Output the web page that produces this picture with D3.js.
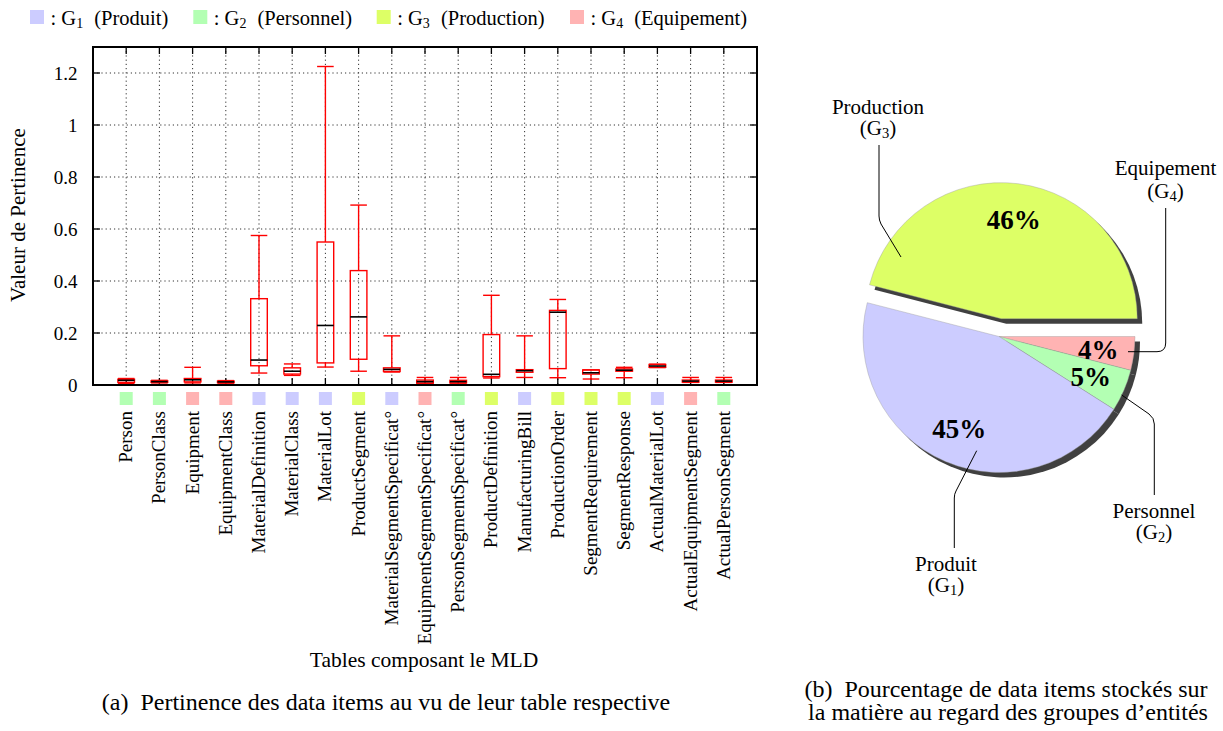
<!DOCTYPE html>
<html><head><meta charset="utf-8">
<script src="https://cdn.jsdelivr.net/npm/d3@7"></script>
<style>
html,body{margin:0;padding:0;background:#fff;}
svg{display:block;}
svg text{font-family:"Liberation Serif","Times New Roman",serif;}
</style></head>
<body>
<svg id="chart" width="1223" height="731"></svg>
<script>
// ---------- data ----------
const categories = ["Person","PersonClass","Equipment","EquipmentClass","MaterialDefinition","MaterialClass","MaterialLot","ProductSegment","MaterialSegmentSpecificat°","EquipmentSegmentSpecificat°","PersonSegmentSpecificat°","ProductDefinition","ManufacturingBill","ProductionOrder","SegmentRequirement","SegmentResponse","ActualMaterialLot","ActualEquipmentSegment","ActualPersonSegment"];
const categoryGroup = ["G2","G2","G4","G4","G1","G1","G1","G3","G1","G4","G2","G3","G1","G3","G3","G3","G1","G4","G2"];
const whiskerLow  = [0.006,0.008,0.008,0.007,0.046,0.037,0.069,0.053,0.050,0.007,0.007,0.027,0.029,0.028,0.023,0.028,0.067,0.010,0.010];
const quartile1   = [0.010,0.010,0.012,0.009,0.074,0.042,0.085,0.099,0.052,0.007,0.008,0.032,0.049,0.063,0.042,0.053,0.068,0.011,0.011];
const medianVals  = [0.018,0.013,0.020,0.012,0.096,0.053,0.229,0.262,0.060,0.013,0.013,0.041,0.055,0.280,0.047,0.057,0.073,0.015,0.015];
const quartile3   = [0.022,0.016,0.025,0.015,0.332,0.066,0.550,0.440,0.066,0.019,0.018,0.194,0.059,0.287,0.058,0.062,0.079,0.019,0.019];
const whiskerHigh = [0.025,0.018,0.068,0.017,0.575,0.081,1.225,0.692,0.189,0.029,0.029,0.345,0.189,0.329,0.058,0.068,0.080,0.029,0.029];
const yTicks = [0,0.2,0.4,0.6,0.8,1,1.2];
const yTickLabels = ["0","0.2","0.4","0.6","0.8","1","1.2"];

const groupIds = ["G1","G2","G3","G4"];
const groupNames = ["Produit","Personnel","Production","Equipement"];
const groupColors = ["#ccccff","#b3ffb3","#ddff66","#ffb3b3"];

const pieGroups = ["G4","G2","G1","G3"];
const piePercent = [4,5,45,46];
const explodedGroup = "G3";

// ---------- setup ----------
const svg = d3.select("#chart");
const color = d3.scaleOrdinal().domain(groupIds).range(groupColors);
const nameOf = d3.scaleOrdinal().domain(groupIds).range(groupNames);

const L=93, R=757, T=47, B=385;
const x = d3.scaleLinear().domain([0, categories.length+1]).range([L,R]);
const y = d3.scaleLinear().domain([0,1.3]).range([B,T]);

// legend
const legendX = [30,193.3,376.7,570];
const lg = svg.append("g");
groupIds.forEach((g,i)=>{
  lg.append("rect").attr("x",legendX[i]).attr("y",10).attr("width",14).attr("height",14).attr("fill",color(g));
  const t = lg.append("text").attr("x",legendX[i]+20.5).attr("y",25).attr("font-size",20.5);
  t.append("tspan").text(": G");
  t.append("tspan").attr("font-size",14).attr("dy",3).text(g.slice(1));
  t.append("tspan").attr("dy",-3).attr("dx",6).text(" (" + nameOf(g) + ")");
});

// grid
const grid = svg.append("g").attr("stroke","#000").attr("stroke-width",1).attr("stroke-dasharray","1.2,3").attr("opacity",0.8);
yTicks.filter(v=>v>0).forEach(v=>{
  grid.append("line").attr("x1",L).attr("x2",R).attr("y1",y(v)).attr("y2",y(v));
});
categories.forEach((c,i)=>{
  grid.append("line").attr("x1",x(i+1)).attr("x2",x(i+1)).attr("y1",T).attr("y2",B);
});

// ticks
const tk = svg.append("g").attr("stroke","#000").attr("stroke-width",1.3);
yTicks.forEach(v=>{
  tk.append("line").attr("x1",L).attr("x2",L+7).attr("y1",y(v)).attr("y2",y(v));
  tk.append("line").attr("x1",R).attr("x2",R-7).attr("y1",y(v)).attr("y2",y(v));
});
categories.forEach((c,i)=>{
  tk.append("line").attr("x1",x(i+1)).attr("x2",x(i+1)).attr("y1",B).attr("y2",B-7);
  tk.append("line").attr("x1",x(i+1)).attr("x2",x(i+1)).attr("y1",T).attr("y2",T+7);
});

// y tick labels
svg.append("g").selectAll("text").data(yTicks).join("text")
  .attr("x",77.5).attr("y",d=>y(d)).attr("dy","0.35em").attr("text-anchor","end")
  .attr("font-size",19).text((d,i)=>yTickLabels[i]);

// boxes
const bw = 0.5;
const bx = svg.append("g");
categories.forEach((c,i)=>{
  const cx = x(i+1), hw = (x(bw)-x(0))/2;
  const g = bx.append("g").attr("stroke","red").attr("stroke-width",1.4).attr("fill","none");
  g.append("line").attr("x1",cx).attr("x2",cx).attr("y1",y(whiskerLow[i])).attr("y2",y(quartile1[i]));
  g.append("line").attr("x1",cx).attr("x2",cx).attr("y1",y(quartile3[i])).attr("y2",y(whiskerHigh[i]));
  g.append("line").attr("x1",cx-hw).attr("x2",cx+hw).attr("y1",y(whiskerLow[i])).attr("y2",y(whiskerLow[i]));
  g.append("line").attr("x1",cx-hw).attr("x2",cx+hw).attr("y1",y(whiskerHigh[i])).attr("y2",y(whiskerHigh[i]));
  g.append("rect").attr("x",cx-hw).attr("width",2*hw).attr("y",y(quartile3[i])).attr("height",Math.max(1,y(quartile1[i])-y(quartile3[i])));
  bx.append("line").attr("stroke","#000").attr("stroke-width",1.6)
    .attr("x1",cx-hw).attr("x2",cx+hw).attr("y1",y(medianVals[i])).attr("y2",y(medianVals[i]));
});

// frame
svg.append("rect").attr("x",L).attr("y",T).attr("width",R-L).attr("height",B-T).attr("fill","none").attr("stroke","#000").attr("stroke-width",2);

// category markers & labels
categories.forEach((c,i)=>{
  const cx = x(i+1);
  svg.append("rect").attr("x",cx-6.5).attr("y",392).attr("width",13).attr("height",13).attr("fill",color(categoryGroup[i]));
  svg.append("text").attr("transform",`translate(${cx+6},411) rotate(-90)`).attr("text-anchor","end")
    .attr("font-size",19).text(c);
});

// axis titles
svg.append("text").attr("transform","translate(25,215) rotate(-90)").attr("text-anchor","middle").attr("font-size",21).text("Valeur de Pertinence");
svg.append("text").attr("x",424).attr("y",667).attr("text-anchor","middle").attr("font-size",21.5).text("Tables composant le MLD");

// captions
svg.append("text").attr("x",386).attr("y",710).attr("text-anchor","middle").attr("font-size",24).style("white-space","pre").text("(a)  Pertinence des data items au vu de leur table respective");
const capB = svg.append("text").attr("x",1006).attr("y",697).attr("text-anchor","middle").attr("font-size",24).style("white-space","pre");
capB.append("tspan").attr("x",1006).text("(b)  Pourcentage de data items stockés sur");
capB.append("tspan").attr("x",1008).attr("dy",23).text("la matière au regard des groupes d’entités");

// ---------- pie ----------
const pcx = 999, pcy = 336.5, pr = 136, explode = 18, shadow = 5;
const pie = d3.pie().sort(null).value(d=>d.v).startAngle(Math.PI/2).endAngle(Math.PI/2+2*Math.PI);
const arcs = pie(pieGroups.map((g,i)=>({g, v: piePercent[i]})));
const arc = d3.arc().innerRadius(0).outerRadius(pr);
const offs = a => {
  if (a.data.g !== explodedGroup) return [0,0];
  const m = (a.startAngle+a.endAngle)/2;
  return [explode*Math.sin(m), -explode*Math.cos(m)];
};
const pg = svg.append("g").attr("transform",`translate(${pcx},${pcy})`);
arcs.forEach(a=>{
  const [ox,oy] = offs(a);
  pg.append("path").attr("d",arc(a)).attr("fill","#404040").attr("transform",`translate(${ox+shadow},${oy+shadow})`);
});
arcs.forEach(a=>{
  const [ox,oy] = offs(a);
  pg.append("path").attr("d",arc(a)).attr("fill",color(a.data.g)).attr("stroke","#9a9a9a").attr("stroke-width",0.4).attr("transform",`translate(${ox},${oy})`);
});
arcs.forEach(a=>{
  const [ox,oy] = offs(a);
  const m = (a.startAngle+a.endAngle)/2, rr = 100;
  pg.append("text").attr("x",ox+rr*Math.sin(m)).attr("y",oy-rr*Math.cos(m)).attr("dy","0.36em")
    .attr("text-anchor","middle").attr("font-weight","bold").attr("font-size",27).text(a.data.v+"%");
});

// pie labels & leaders
const leaders = {
  G3: {lx:878, ly:114, gap:21, path:"M901,257 L881,224 Q879,220 879,216 L879,145"},
  G4: {lx:1165.5, ly:175, gap:22.5, path:"M1128,351.7 L1157,351.7 Q1165.7,351.7 1165.7,343 L1165.7,208"},
  G2: {lx:1154, ly:518, gap:21, path:"M1121.7,395 L1149,414 Q1154.3,418 1154.3,424 L1154.3,495"},
  G1: {lx:946, ly:570.5, gap:21, path:"M976.7,450.7 L956,491 Q954.3,494 954.3,498 L954.3,548"}
};
pieGroups.forEach(g=>{
  const d = leaders[g];
  svg.append("path").attr("d",d.path).attr("fill","none").attr("stroke","#000").attr("stroke-width",1);
  const t = svg.append("text").attr("x",d.lx).attr("y",d.ly).attr("text-anchor","middle").attr("font-size",21);
  t.append("tspan").attr("x",d.lx).text(nameOf(g));
  t.append("tspan").attr("x",d.lx).attr("dy",d.gap).text("(G");
  t.append("tspan").attr("font-size",14.5).attr("dy",3).text(g.slice(1));
  t.append("tspan").attr("dy",-3).text(")");
});
</script>
</body></html>
